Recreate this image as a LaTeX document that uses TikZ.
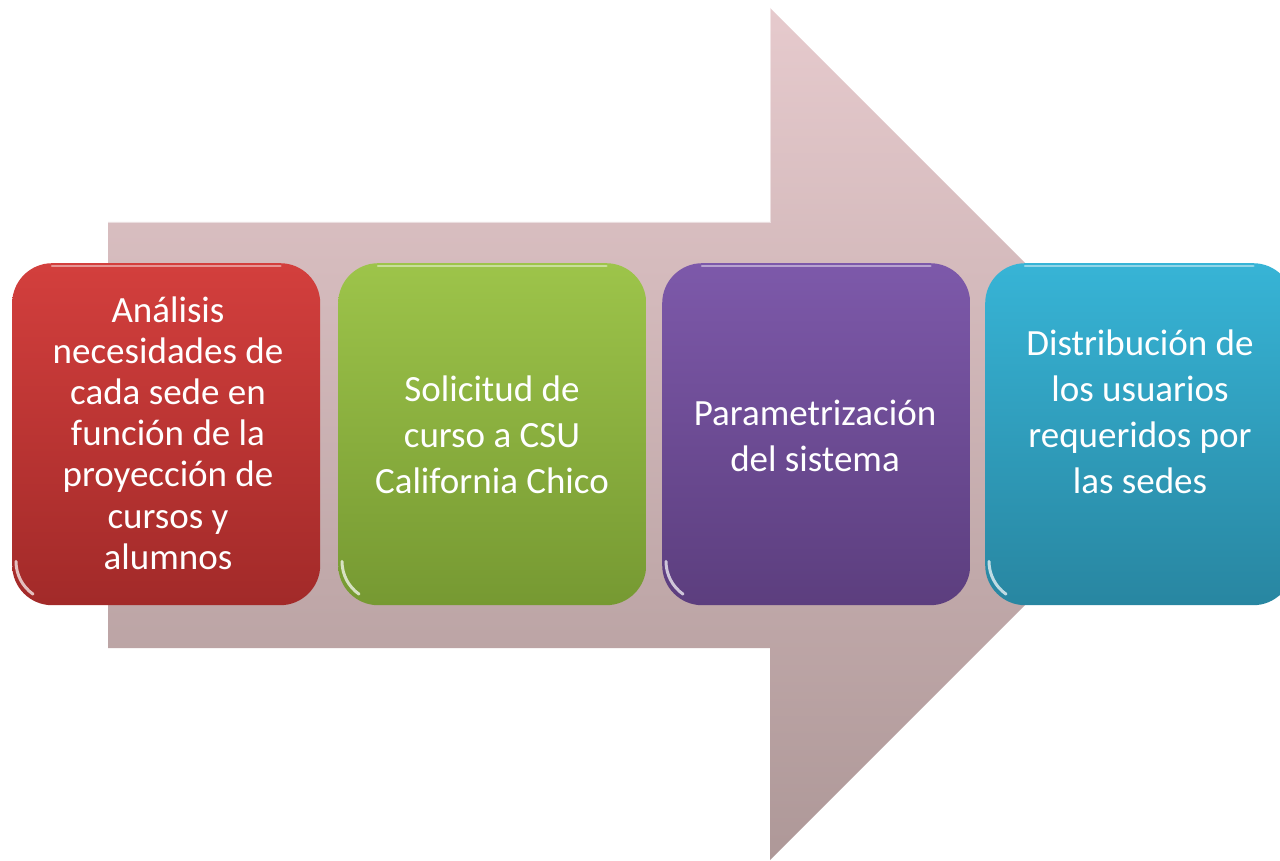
\documentclass[tikz,border=0pt]{standalone}
\usepackage{fontspec}
\setmainfont{Carlito}
\usetikzlibrary{calc}
\definecolor{arrtop}{HTML}{E6CACD}
\definecolor{arrbot}{HTML}{AE9898}
\definecolor{redtop}{HTML}{D33F3D}
\definecolor{redbot}{HTML}{A22A29}
\definecolor{grntop}{HTML}{9DC44A}
\definecolor{grnbot}{HTML}{769932}
\definecolor{purtop}{HTML}{7D59AA}
\definecolor{purbot}{HTML}{5C3E7E}
\definecolor{blutop}{HTML}{37B4D6}
\definecolor{blubot}{HTML}{2886A1}
\tikzset{
  stepbox/.style={rounded corners=40pt, minimum width=308pt, minimum height=342pt, inner sep=0pt, anchor=north west},
  steptext/.style={text=white, align=center, font=\fontsize{37}{46}\selectfont},
  rim/.style={draw=white, draw opacity=0.45, line width=2.5pt, line cap=round},
  glint/.style={draw=white, draw opacity=0.7, line width=3pt, line cap=round},
}
\begin{document}
\begin{tikzpicture}[x=1pt,y=-1pt]
\useasboundingbox (0,0) rectangle (1280,861);
\clip (0,0) rectangle (1280,861);
\fill[white] (0,0) rectangle (1280,861);
% big arrow
\coordinate (a1) at (108,222);
\coordinate (a2) at (770,222);
\coordinate (a3) at (770,8);
\coordinate (a4) at (1196,434);
\coordinate (a5) at (770,860);
\coordinate (a6) at (770,648);
\coordinate (a7) at (108,648);
\shade[top color=arrtop, bottom color=arrbot] (a1) -- (a2) -- (a3) -- (a4) -- (a5) -- (a6) -- (a7) -- cycle;
\draw[white, opacity=0.5, line width=1.2pt] (a1) -- (a2) -- (a3);
% boxes
\node[stepbox, top color=redtop, bottom color=redbot] (b1) at (12,263) {};
\node[stepbox, top color=grntop, bottom color=grnbot] (b2) at (338,263) {};
\node[stepbox, top color=purtop, bottom color=purbot] (b3) at (662,263) {};
\node[stepbox, top color=blutop, bottom color=blubot] (b4) at (985,263) {};
\foreach \n in {b1,b2,b3,b4}{
  \draw[rim] ([xshift=40pt,yshift=-3pt]\n.north west) -- ([xshift=-40pt,yshift=-3pt]\n.north east);
  \draw[glint] ([xshift=4pt,yshift=44pt]\n.south west) arc[start angle=180,end angle=235,radius=40pt];
}
% texts
\node[steptext, font=\fontsize{37}{41.2}\selectfont] (t1) at (168,433) {Análisis\\necesidades de\\cada sede en\\función de la\\proyección de\\cursos y\\alumnos};
\node[steptext] (t2) at (492,435) {Solicitud de\\curso a CSU\\California Chico};
\node[steptext] (t3) at (815,436) {Parametrización\\del sistema};
\node[steptext] (t4) at (1140,412) {Distribución de\\los usuarios\\requeridos por\\las sedes};
\end{tikzpicture}
\end{document}
